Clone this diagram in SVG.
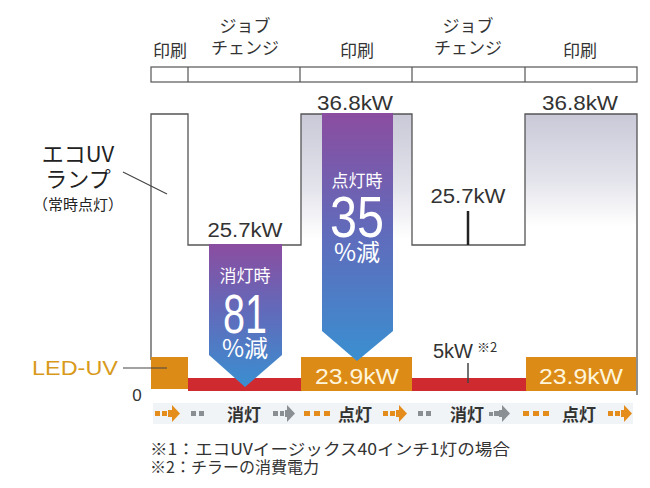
<svg xmlns="http://www.w3.org/2000/svg" width="650" height="488" viewBox="0 0 650 488">
<defs>
<style>
text{font-family:"Liberation Sans","Noto Sans CJK JP",sans-serif;}
.jp{font-family:"Noto Sans CJK JP","Liberation Sans",sans-serif;}
.hdr{font-size:17px;fill:#333;text-anchor:middle;}
.kw{font-size:20px;fill:#333;text-anchor:middle;}
.box{fill:#dc8b16;}
.boxt{font-size:22px;fill:#fff5dc;text-anchor:middle;}
.outline{fill:none;stroke:#555;stroke-width:1.3;}
.white{fill:#fff;text-anchor:middle;}
.step{font-size:17px;fill:#333;font-weight:bold;text-anchor:middle;}
.og{fill:#e48c1c;}
.gy{fill:#8a8f94;}
</style>
<linearGradient id="printFill" x1="0" y1="0" x2="0" y2="1">
<stop offset="0" stop-color="#c9c9d8"/>
<stop offset="0.6" stop-color="#e4e4ec"/>
<stop offset="1" stop-color="#ffffff"/>
</linearGradient>
<linearGradient id="arrowFill" x1="0" y1="0" x2="0" y2="1">
<stop offset="0" stop-color="#8b4da0"/>
<stop offset="0.5" stop-color="#5f6cbc"/>
<stop offset="1" stop-color="#3a8fd0"/>
</linearGradient>
</defs>
<rect width="650" height="488" fill="#fff"/>

<g id="header">
<text class="hdr jp" x="170" y="57">印刷</text>
<text class="hdr jp" x="245" y="32">ジョブ</text>
<text class="hdr jp" x="245" y="54">チェンジ</text>
<text class="hdr jp" x="357" y="57">印刷</text>
<text class="hdr jp" x="468" y="32">ジョブ</text>
<text class="hdr jp" x="468" y="54">チェンジ</text>
<text class="hdr jp" x="580" y="57">印刷</text>
<rect x="151" y="67" width="486" height="15" fill="#fff" stroke="#555" stroke-width="1.2"/>
<path d="M188 67V82M300 67V82M412 67V82M525 67V82" stroke="#555" stroke-width="1.2"/>
</g>

<g id="ecouv-fill">
<rect x="301" y="114" width="111" height="125" fill="url(#printFill)"/>
<rect x="525" y="114" width="112" height="112" fill="url(#printFill)"/>
</g>

<g id="ecouv-line">
<path class="outline" d="M151 360V114H188V245H301V114H412V245H525V114H637V395"/>
<path d="M468 211V245" stroke="#222" stroke-width="2.5"/>
</g>

<g id="labels-kw">
<text class="kw" x="355" y="110" textLength="76" lengthAdjust="spacingAndGlyphs">36.8kW</text>
<text class="kw" x="580" y="110" textLength="76" lengthAdjust="spacingAndGlyphs">36.8kW</text>
<text class="kw" x="245" y="237" textLength="75" lengthAdjust="spacingAndGlyphs">25.7kW</text>
<text class="kw" x="468" y="203" textLength="75" lengthAdjust="spacingAndGlyphs">25.7kW</text>
</g>

<g id="ecouv-label">
<text class="jp" x="78" y="162" font-size="22" fill="#222" text-anchor="middle">エコUV</text>
<text class="jp" x="78" y="187" font-size="22" fill="#222" text-anchor="middle">ランプ</text>
<text class="jp" x="78" y="210" font-size="15" fill="#222" text-anchor="middle">（常時点灯）</text>
<path d="M123 172L167 194" stroke="#444" stroke-width="1.2"/>
</g>

<g id="led-bars">
<rect x="188" y="378" width="114" height="13" fill="#cf2a30"/>
<rect x="412" y="378" width="115" height="13" fill="#cf2a30"/>
<rect class="box" x="151" y="357" width="37" height="32"/>
<rect class="box" x="301" y="357" width="111" height="34"/>
<rect class="box" x="526" y="357" width="110" height="34"/>
<text class="boxt" x="357" y="384" textLength="84" lengthAdjust="spacingAndGlyphs">23.9kW</text>
<text class="boxt" x="581" y="384" textLength="84" lengthAdjust="spacingAndGlyphs">23.9kW</text>
<path d="M468 363V383" stroke="#444" stroke-width="1.5"/>
<text x="433" y="358" font-size="20" fill="#333" textLength="40" lengthAdjust="spacingAndGlyphs">5kW</text>
<text x="477" y="352" font-size="13" fill="#333" class="jp">※2</text>
</g>

<g id="led-label">
<text x="32" y="375" font-size="21" fill="#d99a1c" textLength="86" lengthAdjust="spacingAndGlyphs">LED-UV</text>
<path d="M123 368H167" stroke="#444" stroke-width="1.2"/>
<text x="137" y="401" font-size="17" fill="#333" text-anchor="middle">0</text>
</g>

<g id="arrow-off">
<path d="M209 244H282V355L245 387L209 355Z" fill="url(#arrowFill)"/>
<text class="white jp" x="245" y="282" font-size="17">消灯時</text>
<text class="white" x="245" y="333" font-size="56" textLength="44" lengthAdjust="spacingAndGlyphs">81</text>
<text class="white jp" x="245" y="357" font-size="24">%減</text>
</g>

<g id="arrow-on">
<path d="M322 113H393V331L357 361L322 331Z" fill="url(#arrowFill)"/>
<text class="white jp" x="357" y="187" font-size="17">点灯時</text>
<text class="white" x="357" y="237" font-size="58" textLength="54" lengthAdjust="spacingAndGlyphs">35</text>
<text class="white jp" x="357" y="261" font-size="24">%減</text>
</g>

<g id="sequence">
<rect x="153" y="403" width="480" height="21" fill="#f1f4f6"/>
<rect class="og" x="155" y="411" width="5" height="5"/><rect class="og" x="162" y="411" width="5" height="5"/><path class="og" d="M168 410H172V405L180 413.5L172 422V417H168Z"/>
<rect class="gy" x="191" y="411" width="5" height="5"/><rect class="gy" x="199" y="411" width="5" height="5"/>
<text class="step jp" x="244" y="421">消灯</text>
<rect class="gy" x="273" y="411" width="5" height="5"/><rect class="gy" x="280" y="411" width="4" height="5"/><path class="gy" d="M285 410H287V405L295 413.5L287 422V417H285Z"/>
<rect class="og" x="304" y="411" width="6" height="5"/><rect class="og" x="314" y="411" width="6" height="5"/><rect class="og" x="324" y="411" width="6" height="5"/>
<text class="step jp" x="355" y="421">点灯</text>
<rect class="og" x="383" y="411" width="5" height="5"/><rect class="og" x="390" y="411" width="5" height="5"/><path class="og" d="M396 410H399V405L407 413.5L399 422V417H396Z"/>
<rect class="gy" x="418" y="411" width="5" height="5"/><rect class="gy" x="426" y="411" width="5" height="5"/>
<text class="step jp" x="467" y="421">消灯</text>
<rect class="gy" x="489" y="412" width="4" height="4"/><rect class="gy" x="494" y="411" width="5" height="5"/><path class="gy" d="M499 410H502V405L510 413.5L502 422V417H499Z"/>
<rect class="og" x="523" y="411" width="6" height="5"/><rect class="og" x="533" y="411" width="6" height="5"/><rect class="og" x="543" y="411" width="6" height="5"/>
<text class="step jp" x="579" y="421">点灯</text>
<rect class="og" x="608" y="411" width="5" height="5"/><rect class="og" x="615" y="411" width="5" height="5"/><path class="og" d="M621 410H624V405L632 413.5L624 422V417H621Z"/>
</g>

<g id="footnotes">
<text class="jp" x="150" y="455" font-size="16" fill="#333" textLength="360" lengthAdjust="spacingAndGlyphs">※1：エコUVイージックス40インチ1灯の場合</text>
<text class="jp" x="150" y="473" font-size="16" fill="#333">※2：チラーの消費電力</text>
</g>
</svg>
